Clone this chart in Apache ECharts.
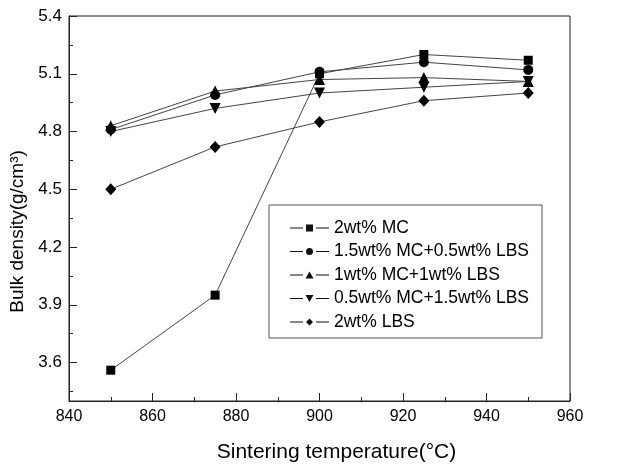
<!DOCTYPE html>
<html>
<head>
<meta charset="utf-8">
<script src="https://cdn.jsdelivr.net/npm/echarts@6/dist/echarts.min.js"></script>
<style>
  html, body { margin: 0; padding: 0; background: #fff; }
  #chart { width: 619px; height: 468px; }
</style>
</head>
<body>
<div id="chart"></div>
<script>
// sintering temperatures (°C)
const temps = [850, 875, 900, 925, 950];
// bulk density values (g/cm3)
const mc2 = [3.56, 3.95, 5.10, 5.20, 5.17];
const mc15lbs05 = [4.81, 4.99, 5.11, 5.16, 5.12];
const mc1lbs1 = [4.83, 5.01, 5.07, 5.08, 5.06];
const mc05lbs15 = [4.80, 4.92, 5.00, 5.03, 5.06];
const lbs2 = [4.50, 4.72, 4.85, 4.96, 5.00];
// y tick labels
const yMajor = [3.6, 3.9, 4.2, 4.5, 4.8, 5.1, 5.4];
const yMinor = [3.45, 3.75, 4.05, 4.35, 4.65, 4.95, 5.25];

const font = '"Liberation Sans", Arial, sans-serif';
const pair = arr => temps.map((t, i) => [t, arr[i]]);

// legend icons: short line on each side of the marker (39 x 7 box)
const legLine = 'M0 3h13v1H0z M26 3h13v1H26z ';
const legIcons = {
    rect: 'path://' + legLine + 'M16 0h7v7h-7z',
    circle: 'path://' + legLine + 'M16 3.5a3.5 3.5 0 1 0 7 0a3.5 3.5 0 1 0 -7 0z',
    up: 'path://' + legLine + 'M19.5 0L23.5 7H15.5z',
    down: 'path://' + legLine + 'M15.5 0H23.5L19.5 7z',
    diamond: 'path://' + legLine + 'M19.5 0L23 3.5L19.5 7L16 3.5z'
};

const mk = (name, arr, symbol, size, rotate) => ({
    name: name,
    type: 'line',
    data: pair(arr),
    symbol: symbol,
    symbolSize: size,
    symbolRotate: rotate || 0,
    showSymbol: true,
    lineStyle: { color: '#444', width: 1 },
    itemStyle: { color: '#000', borderWidth: 0 },
    emphasis: { disabled: true },
    animation: false
});

const chart = echarts.init(document.getElementById('chart'));
chart.setOption({
    backgroundColor: '#fff',
    animation: false,
    textStyle: { fontFamily: font, color: '#000' },
    grid: {
        left: 69, right: 49, top: 16, bottom: 52,
        show: true, borderColor: '#222', borderWidth: 1
    },
    legend: {
        orient: 'vertical',
        left: 269, top: 205,
        borderColor: '#555', borderWidth: 1,
        padding: [14, 13, 7, 21],
        itemWidth: 39, itemHeight: 7, itemGap: 5.5,
        textStyle: { fontSize: 17.5, fontFamily: font, color: '#000' },
        itemStyle: { color: '#111', borderWidth: 0 },
        data: [
            { name: '2wt% MC', icon: legIcons.rect },
            { name: '1.5wt% MC+0.5wt% LBS', icon: legIcons.circle },
            { name: '1wt% MC+1wt% LBS', icon: legIcons.up },
            { name: '0.5wt% MC+1.5wt% LBS', icon: legIcons.down },
            { name: '2wt% LBS', icon: legIcons.diamond }
        ]
    },
    xAxis: {
        type: 'value',
        min: 840, max: 960, interval: 20,
        name: 'Sintering temperature(°C)',
        nameLocation: 'middle', nameGap: 41,
        nameTextStyle: { fontSize: 21, fontFamily: font, color: '#000', padding: [0, 0, 0, 34] },
        axisLine: { show: true, lineStyle: { color: '#222', width: 1 } },
        axisTick: { inside: true, length: 8, lineStyle: { color: '#222' } },
        minorTick: { show: true, splitNumber: 2, length: 4, lineStyle: { color: '#222' } },
        axisLabel: { fontSize: 16, margin: 8, color: '#000', fontFamily: font },
        splitLine: { show: false }
    },
    yAxis: [{
        type: 'value',
        min: 3.4, max: 5.4,
        name: 'Bulk density(g/cm³)',
        nameLocation: 'middle', nameGap: 40,
        nameTextStyle: { fontSize: 19, fontFamily: font, color: '#000', padding: [0, 46, 0, 0] },
        axisLine: { show: true, lineStyle: { color: '#222', width: 1 } },
        axisTick: { inside: true, length: 8, customValues: yMajor, lineStyle: { color: '#222' } },
        axisLabel: {
            fontSize: 17, margin: 7, color: '#000', fontFamily: font,
            customValues: yMajor,
            formatter: v => v.toFixed(1)
        },
        splitLine: { show: false }
    }, {
        type: 'value',
        min: 3.4, max: 5.4,
        position: 'left',
        axisLine: { show: true, lineStyle: { color: '#222', width: 1 } },
        axisTick: { inside: true, length: 4, customValues: yMinor, lineStyle: { color: '#222' } },
        axisLabel: { show: false },
        splitLine: { show: false }
    }],
    series: [
        mk('2wt% MC', mc2, 'rect', 9),
        mk('1.5wt% MC+0.5wt% LBS', mc15lbs05, 'circle', 10),
        mk('1wt% MC+1wt% LBS', mc1lbs1, 'triangle', 11),
        mk('0.5wt% MC+1.5wt% LBS', mc05lbs15, 'triangle', 11, 180),
        mk('2wt% LBS', lbs2, 'diamond', [11, 12])
    ]
});
</script>
</body>
</html>
